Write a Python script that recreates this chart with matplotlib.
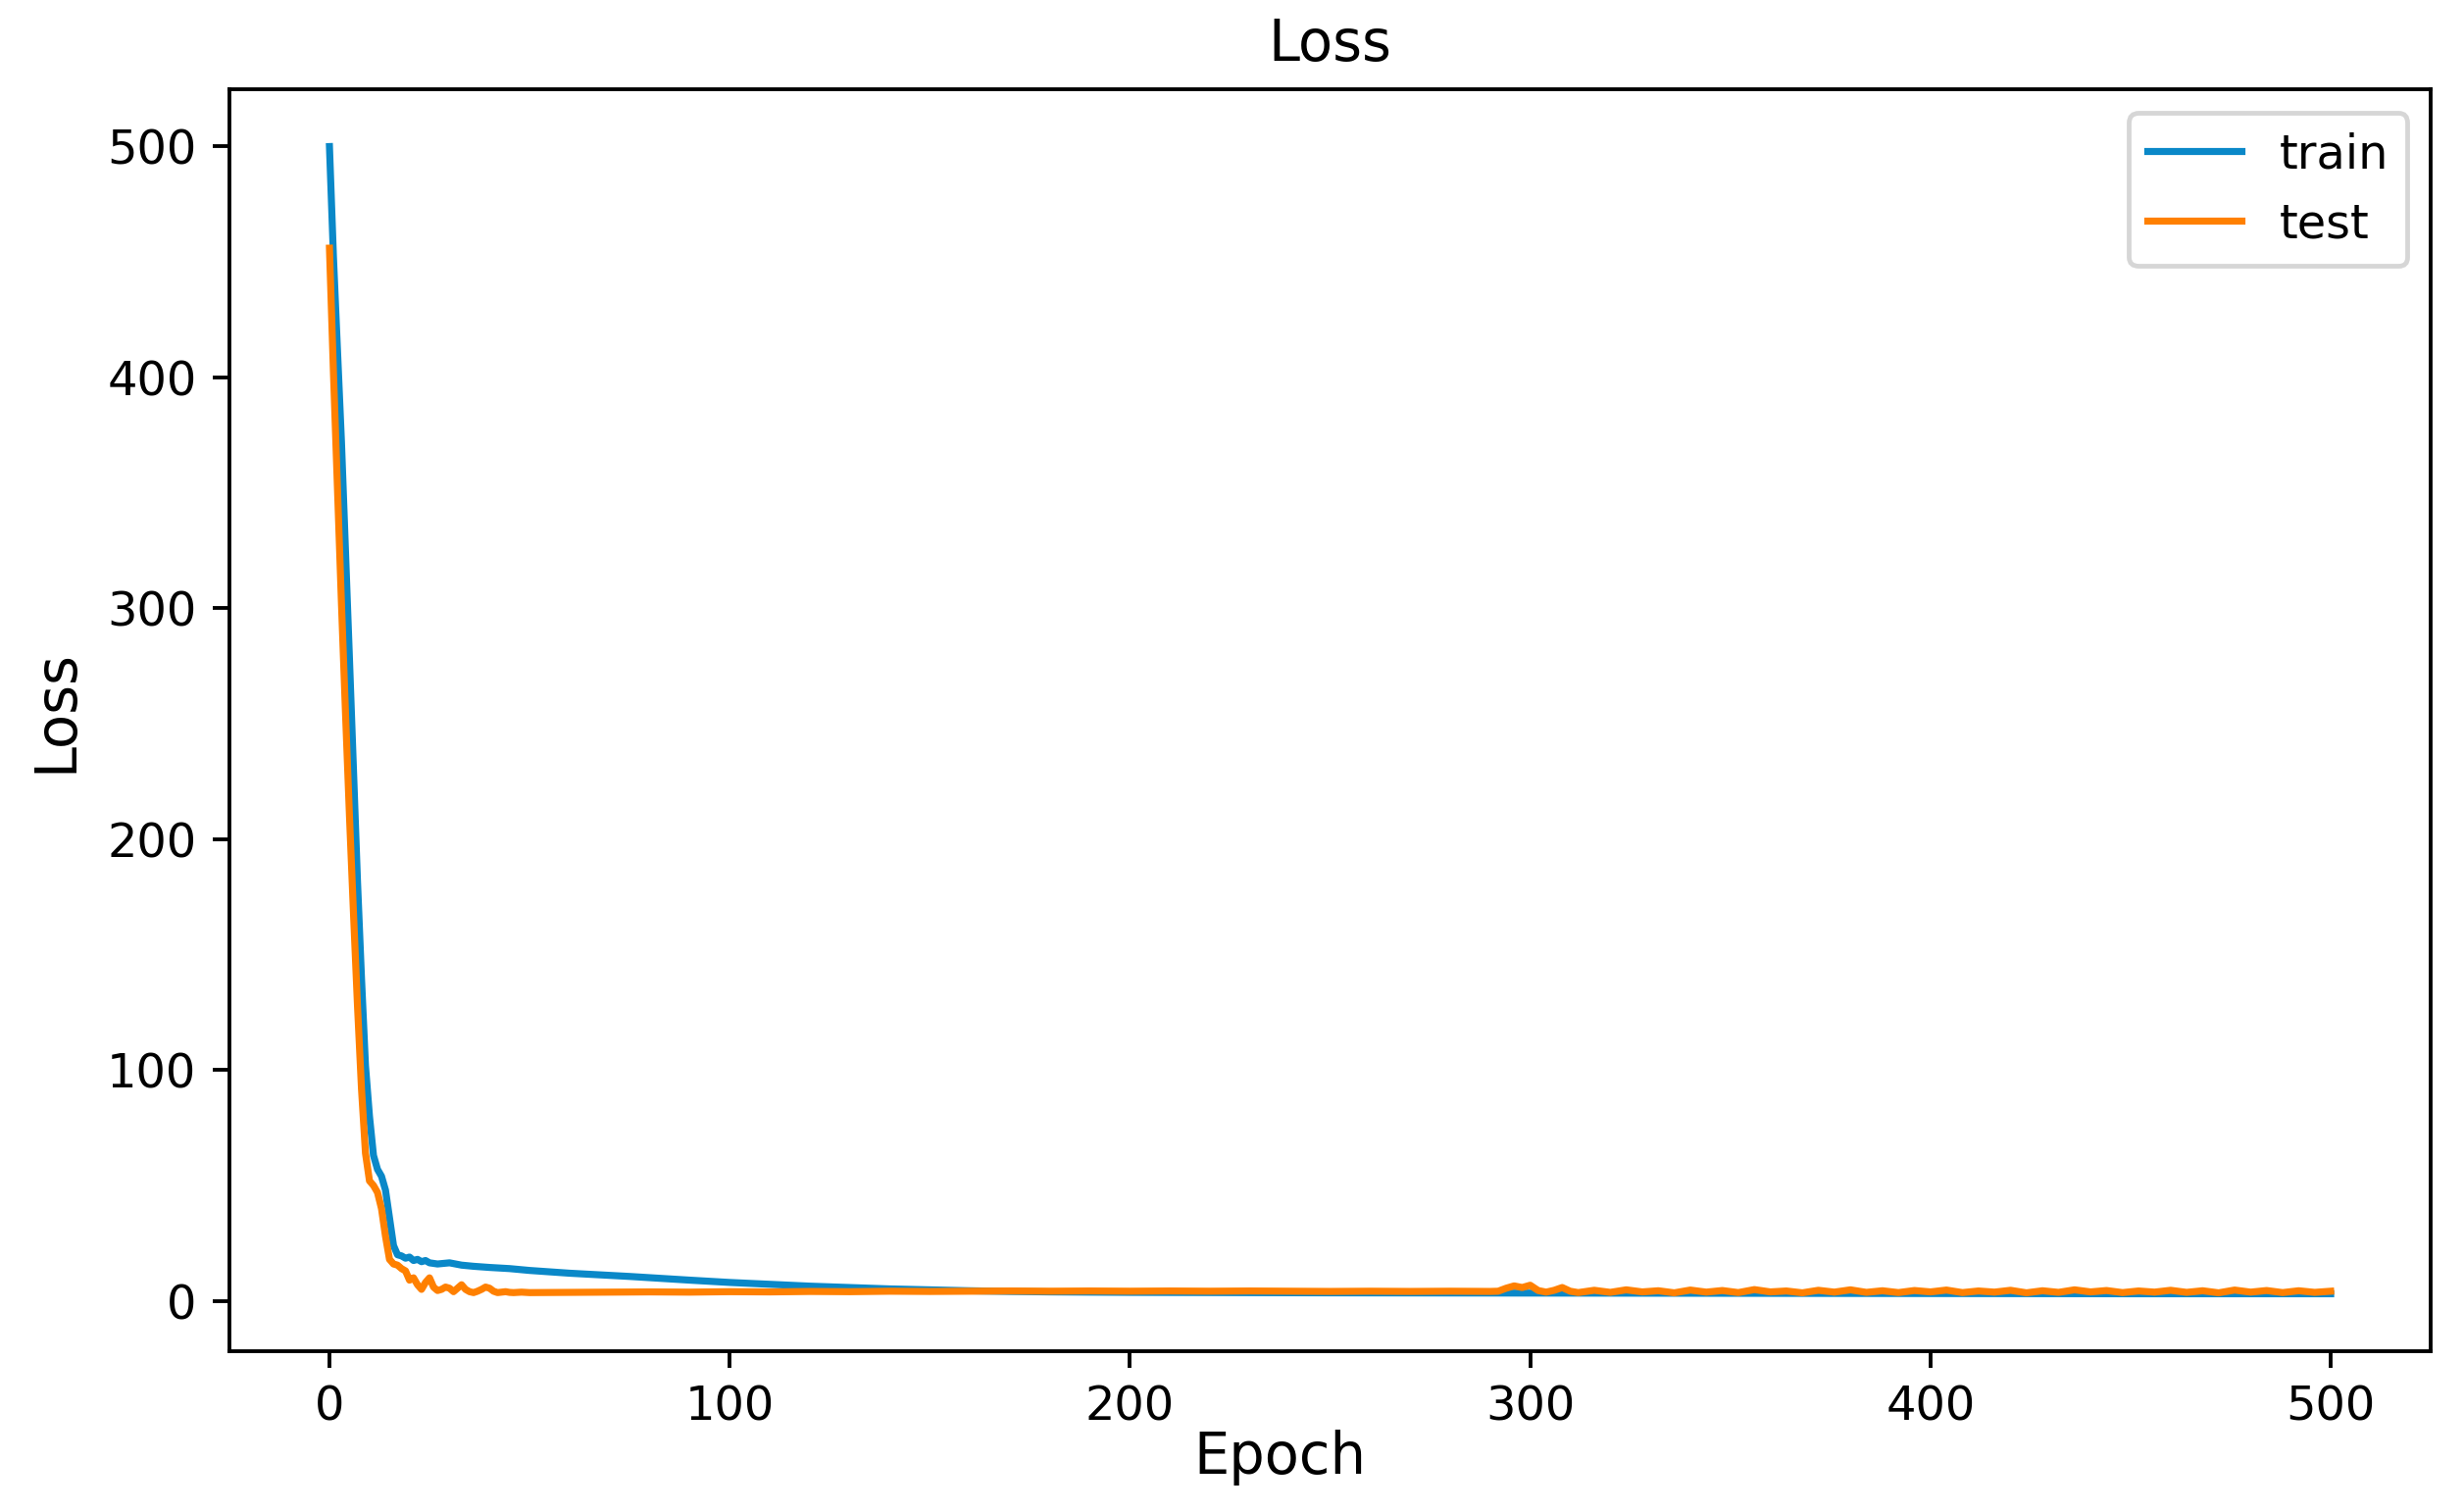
import matplotlib
matplotlib.use("Agg")
import matplotlib.pyplot as plt

# train loss
train_epochs = [0, 1, 2, 3, 4, 5, 6, 7, 8, 9, 10, 11, 12, 13, 14, 15, 16, 17, 18, 19,
                20, 21, 22, 23, 24, 25, 27, 30, 33, 36, 40, 45, 50, 60, 75, 90, 100,
                110, 120, 130, 140, 150, 160, 170, 180, 200, 250, 300, 350, 400, 450, 500]
train_loss = [500, 452, 412, 372, 325, 278, 230, 182, 140, 102, 80, 63, 57, 54, 48, 36,
              24, 20, 19.5, 18.5, 19, 17.5, 18, 17, 17.5, 16.5, 16, 16.5, 15.5, 15,
              14.5, 14, 13.2, 12.0, 10.6, 9.0, 8.0, 7.2, 6.4, 5.8, 5.2, 4.8, 4.4,
              4.1, 3.9, 3.7, 3.5, 3.4, 3.3, 3.2, 3.1, 3.1]

# test loss
test_epochs = [0, 1, 2, 3, 4, 5, 6, 7, 8, 9, 10, 11, 12, 13, 14, 15, 16, 17, 18, 19,
               20, 21, 22, 23, 24, 25, 26, 27, 28, 29, 30, 31, 32, 33, 34, 35, 36, 37,
               38, 39, 40, 41, 42, 43, 44, 45, 46, 48, 50,
               60, 70, 80, 90, 100, 110, 120, 130, 140, 150, 160, 170, 180, 190, 200,
               210, 220, 230, 240, 250, 260, 270, 280, 290,
               292, 294, 296, 298, 300, 302, 304, 306, 308, 310, 312,
               316, 320, 324, 328, 332, 336, 340, 344, 348, 352, 356, 360, 364, 368,
               372, 376, 380, 384, 388, 392, 396, 400, 404, 408, 412, 416, 420, 424,
               428, 432, 436, 440, 444, 448, 452, 456, 460, 464, 468, 472, 476, 480,
               484, 488, 492, 496, 500]
test_loss = [456, 402, 352, 302, 255, 210, 168, 128, 92, 64, 52, 50, 47, 40, 28, 18,
             16, 15.5, 14, 13, 9, 10, 7, 5, 8, 10, 6, 4.5, 5, 6, 5.5, 4, 5.5, 7, 5,
             4, 3.6, 4.2, 5, 6, 5.5, 4.2, 3.6, 3.8, 4.0, 3.7, 3.6, 3.8, 3.6,
             3.7, 3.8, 3.9, 3.8, 4.0, 3.9, 4.1, 4.0, 4.2, 4.1, 4.2, 4.3, 4.2, 4.3, 4.2,
             4.3, 4.2, 4.3, 4.2, 4.1, 4.2, 4.1, 4.2, 4.1,
             4.2, 5.5, 6.5, 5.8, 6.8, 4.5, 3.8, 4.6, 5.8, 4.2, 3.6,
             4.6, 3.7, 4.8, 3.9, 4.4, 3.5, 4.7, 3.8, 4.5, 3.6, 4.9, 3.9, 4.3, 3.5,
             4.6, 3.8, 4.8, 3.7, 4.4, 3.6, 4.5, 3.9, 4.7, 3.6, 4.3, 3.8, 4.6, 3.5,
             4.4, 3.7, 4.8, 3.9, 4.5, 3.6, 4.3, 3.8, 4.6, 3.7, 4.4, 3.5, 4.7, 3.8,
             4.5, 3.6, 4.4, 3.7, 4.2]

fig = plt.figure(figsize=(2513 / 345, 1542 / 345), dpi=345)
ax = fig.add_subplot(111)
fig.subplots_adjust(left=0.0931, right=0.9865, top=0.941, bottom=0.1064)

ax.plot(train_epochs, train_loss, color="#0a88c8", label="train")
ax.plot(test_epochs, test_loss, color="#ff8000", label="test")

ax.set_title("Loss", fontsize=12)
ax.set_xlabel("Epoch", fontsize=12, labelpad=0, x=0.477)
ax.set_ylabel("Loss", fontsize=12, labelpad=5, y=0.507)
ax.set_xticks([0, 100, 200, 300, 400, 500])
ax.set_yticks([0, 100, 200, 300, 400, 500])
ax.legend(loc="upper right", fontsize=10)

fig.savefig("out.png", dpi=345)
